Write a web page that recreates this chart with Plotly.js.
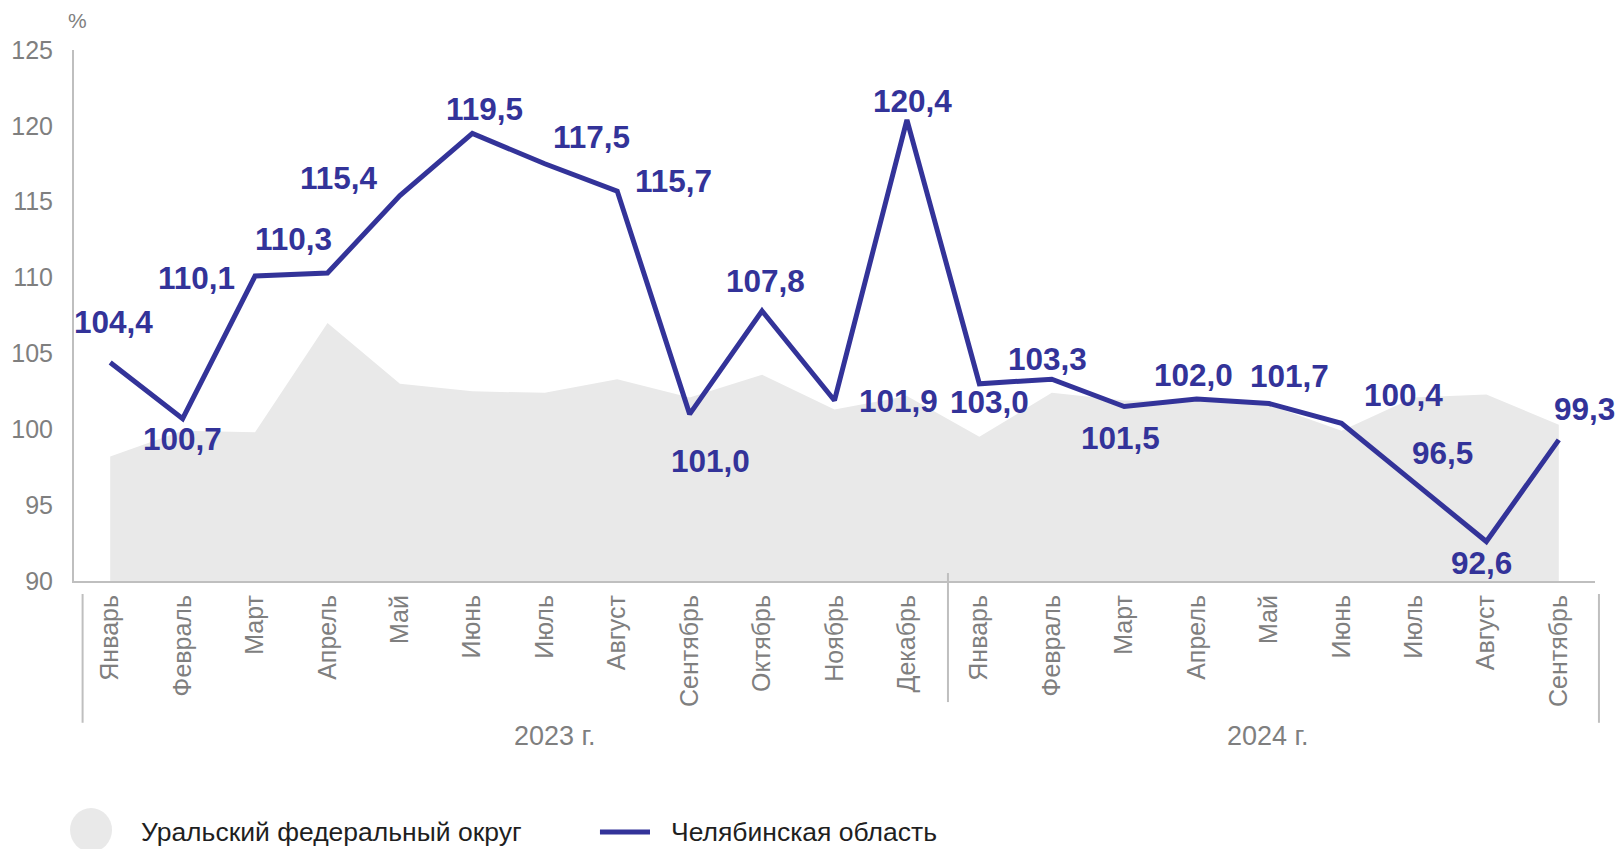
<!DOCTYPE html>
<html><head><meta charset="utf-8">
<script src="https://cdn.plot.ly/plotly-3.0.1.min.js"></script>
<style>html,body{margin:0;padding:0;background:#fff}#chart{width:1619px;height:849px}</style>
</head><body><div id="chart"></div>
<script>
// ---- data ----
const months = ['Январь','Февраль','Март','Апрель','Май','Июнь','Июль','Август','Сентябрь','Октябрь','Ноябрь','Декабрь',
                'Январь','Февраль','Март','Апрель','Май','Июнь','Июль','Август','Сентябрь'];
const years = ['2023 г.', '2024 г.'];
const seriesNames = ['Уральский федеральный округ', 'Челябинская область'];
const ufo  = [98.2, 99.9, 99.8, 107.0, 103.0, 102.5, 102.4, 103.3, 102.1, 103.6, 101.3, 102.2,
              99.5, 102.4, 101.9, 101.9, 101.6, 99.9, 102.1, 102.3, 100.3];
const chel = [104.4, 100.7, 110.1, 110.3, 115.4, 119.5, 117.5, 115.7, 101.0, 107.8, 101.9, 120.4,
              103.0, 103.3, 101.5, 102.0, 101.7, 100.4, 96.5, 92.6, 99.3];
const yAxisUnit = '%';

// ---- presentation ----
const idx = months.map((_, i) => i);
// label offsets in px from the point: [dx, dy] (dy positive = down)
const labelOffsets = [[3,-41],[0,20],[-59,2],[-34,-34],[-61,-18],[12,-24],[47,-27],[56,-10],[21,47],[3,-30],[64,1],[6,-19],
                      [10,18],[-4,-20],[-4,31],[-3,-24],[20,-27],[62,-28],[29,-29],[-5,21],[26,-31]];
const yearPos = [6.14, 15.98];
const FONT = "Arial, 'Liberation Sans', sans-serif";
const LINE = '#333399', AREA = '#e9e9e9', GREY = '#7f7f7f', AXIS = '#bfbfbf';
const fmt = v => v.toFixed(1).replace('.', ',');

const traces = [
  {x: idx, y: ufo, type: 'scatter', mode: 'lines', name: seriesNames[0],
   line: {width: 0, color: AREA}, fill: 'tozeroy', fillcolor: AREA, hoverinfo: 'skip'},
  {x: idx, y: chel, type: 'scatter', mode: 'lines', name: seriesNames[1],
   line: {width: 5, color: LINE}}
];

const annotations = chel.map((v, i) => ({
  x: i, y: v, xref: 'x', yref: 'y', text: fmt(v), showarrow: false,
  xanchor: 'center', yanchor: 'middle',
  xshift: labelOffsets[i][0], yshift: -labelOffsets[i][1],
  font: {family: FONT, size: 31.5, color: LINE, weight: 700}
}));
years.forEach((t, k) => annotations.push({
  x: yearPos[k], xref: 'x', y: -0.292, yref: 'paper', text: t, showarrow: false,
  xanchor: 'center', yanchor: 'middle', font: {family: FONT, size: 27, color: GREY}
}));
annotations.push({x: 0.002, xref: 'paper', y: 1.0554, yref: 'paper', text: yAxisUnit, showarrow: false,
  xanchor: 'center', yanchor: 'middle', font: {family: FONT, size: 21, color: GREY}});
annotations.push({x: 0.0427, xref: 'paper', y: -0.4727, yref: 'paper', text: seriesNames[0], showarrow: false,
  xanchor: 'left', yanchor: 'middle', font: {family: FONT, size: 26.5, color: '#1f1f1f'}});
annotations.push({x: 0.391, xref: 'paper', y: -0.4727, yref: 'paper', text: seriesNames[1], showarrow: false,
  xanchor: 'left', yanchor: 'middle', font: {family: FONT, size: 26.5, color: '#1f1f1f'}});

const shapes = [
  {type: 'line', xref: 'paper', yref: 'paper', x0: 0.00565, x1: 0.00565, y0: -0.0245, y1: -0.267, line: {color: AXIS, width: 2}},
  {type: 'line', xref: 'paper', yref: 'paper', x0: 0.5746, x1: 0.5746, y0: 0.015, y1: -0.228, line: {color: AXIS, width: 2}},
  {type: 'line', xref: 'paper', yref: 'paper', x0: 1.0026, x1: 1.0026, y0: -0.0245, y1: -0.267, line: {color: AXIS, width: 2}},
  {type: 'circle', xref: 'paper', yref: 'paper', x0: -0.0026, x1: 0.025, y0: -0.4275, y1: -0.510, fillcolor: AREA, line: {width: 0}},
  {type: 'line', xref: 'paper', yref: 'paper', x0: 0.3458, x1: 0.3787, y0: -0.4727, y1: -0.4727, line: {color: LINE, width: 5}}
];

const layout = {
  width: 1619, height: 849,
  margin: {l: 74, r: 24, t: 50, b: 268},
  paper_bgcolor: '#fff', plot_bgcolor: '#fff',
  showlegend: false,
  font: {family: FONT},
  xaxis: {range: [-0.5, 20.5], tickmode: 'array', tickvals: idx, ticktext: months, tickangle: -90,
          tickfont: {family: FONT, size: 25, color: GREY}, showline: true, linecolor: AXIS, linewidth: 2,
          showgrid: false, zeroline: false, ticks: '', ticklabelstandoff: 2, fixedrange: true},
  yaxis: {range: [90, 125], tick0: 90, dtick: 5, tickfont: {family: FONT, size: 25, color: GREY},
          showline: true, linecolor: AXIS, linewidth: 2, showgrid: false, zeroline: false, ticks: '',
          ticklabelstandoff: 14, fixedrange: true},
  annotations, shapes
};

Plotly.newPlot('chart', traces, layout, {displayModeBar: false, staticPlot: true});
</script>
</body></html>
